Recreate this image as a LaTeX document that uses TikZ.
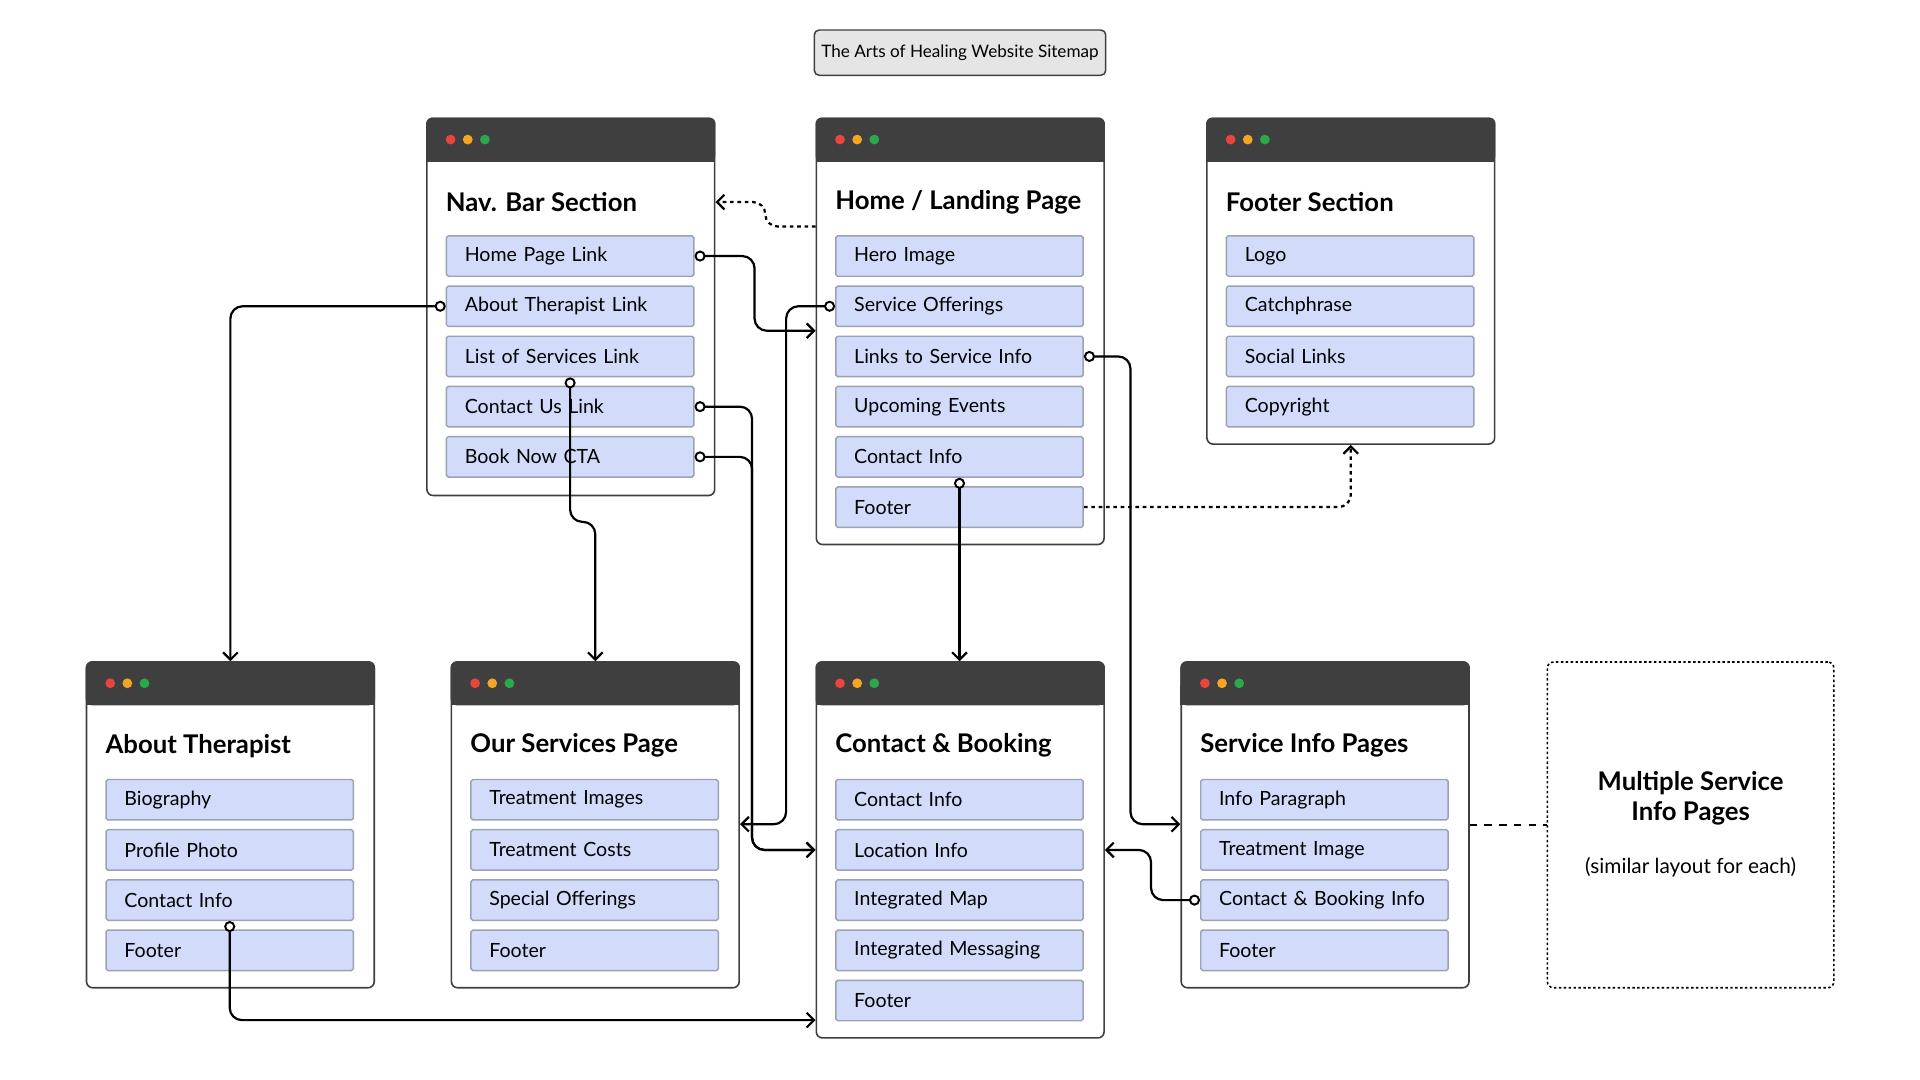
\documentclass[tikz,border=0pt]{standalone}
\usepackage{fontspec}
\setmainfont{Lato}
\usetikzlibrary{arrows.meta,calc}

\definecolor{headcol}{HTML}{3F3F3F}
\definecolor{itemfill}{HTML}{D2DCFA}
\definecolor{itemline}{HTML}{9AA2B4}
\definecolor{dotred}{HTML}{E8453C}
\definecolor{dotyel}{HTML}{F2A623}
\definecolor{dotgrn}{HTML}{2BA84A}

\tikzset{
  win/.style={draw=headcol, line width=1.3pt, fill=white, rounded corners=5pt,
    anchor=north west, minimum width=235pt, inner sep=0pt},
  wintitle/.style={anchor=west, inner sep=0pt, font=\fontsize{21}{25}\selectfont\bfseries},
  item/.style={draw=itemline, line width=1.2pt, fill=itemfill, rounded corners=1.5pt,
    anchor=north west, minimum width=202pt, minimum height=33pt, text width=172pt,
    inner xsep=15pt, inner ysep=0pt, align=left, font=\fontsize{16}{19}\selectfont},
  link/.style={line width=1.8pt, rounded corners=10pt,
    {Circle[open,fill=white,length=9pt,width=9pt,line width=1.6pt]}-{Straight Barb[length=6pt,width=12pt]}},
  dots/.style={line width=1.8pt, dash pattern=on 3pt off 3pt, rounded corners=10pt,
    -{Straight Barb[length=6pt,width=12pt]}},
}

% name, x, y, height, title, items
\newcommand\sitewin[6]{%
  \node[win, minimum height=#4pt] (#1) at (#2,#3) {};
  \fill[headcol, rounded corners=5pt] (#1.north west) rectangle ([yshift=-36pt]#1.north east);
  \fill[headcol] ([yshift=-20pt]#1.north west) rectangle ([yshift=-36pt]#1.north east);
  \foreach \dx/\c in {20/dotred,34/dotyel,48/dotgrn}
    \fill[\c] ([xshift=\dx pt,yshift=-18pt]#1.north west) circle (4pt);
  \node[wintitle] (#1-t) at ([xshift=16pt,yshift=-69pt]#1.north west) {#5};
  \foreach \t [count=\i, evaluate=\i as \yy using -96-41*(\i-1)] in {#6}
    \node[item] (#1-\i) at ([xshift=16pt,yshift=\yy pt]#1.north west) {\t};
}

\begin{document}
\begin{tikzpicture}[x=1pt,y=-1pt]
\useasboundingbox (0,0) rectangle (1568,882);

\node[draw=headcol, line width=1.2pt, fill=black!10, rounded corners=4pt,
  minimum width=238pt, minimum height=37pt, font=\fontsize{14}{17}\selectfont] (title)
  at (784,43) {The Arts of Healing Website Sitemap};

\sitewin{nav}{348}{96}{308}{Nav. Bar Section}{Home Page Link,About Therapist Link,List of Services Link,Contact Us Link,Book Now CTA}
\sitewin{home}{666}{96}{348}{Home / Landing Page}{Hero Image,Service Offerings,Links to Service Info,Upcoming Events,Contact Info,Footer}
\sitewin{foot}{985}{96}{266}{Footer Section}{Logo,Catchphrase,Social Links,Copyright}
\sitewin{ab}{70}{540}{266}{About Therapist}{Biography,Profile Photo,Contact Info,Footer}
\sitewin{serv}{368}{540}{266}{Our Services Page}{Treatment Images,Treatment Costs,Special Offerings,Footer}
\sitewin{con}{666}{540}{307}{Contact \& Booking}{Contact Info,Location Info,Integrated Map,Integrated Messaging,Footer}
\sitewin{svc}{964}{540}{266}{Service Info Pages}{Info Paragraph,Treatment Image,Contact \& Booking Info,Footer}

\node[draw, line width=1.3pt, dash pattern=on 2pt off 2pt, rounded corners=5pt,
  anchor=north west, minimum width=234pt, minimum height=266pt] (multi)
  at (1263,540) {};
\node[align=center, font=\fontsize{21}{25}\selectfont\bfseries] (multi-t)
  at ([yshift=-112pt]multi.north) {Multiple Service\\Info Pages};
\node[font=\fontsize{17}{20}\selectfont] (multi-s) at ([yshift=-168pt]multi.north) {(similar layout for each)};

% connectors
\draw[link] (nav-1.east) -- ++(49,0) |- ([yshift=-20pt]home-2.center -| home.west);
\draw[link] (home-2.west) -- ++(-40,0) |- ([yshift=-20pt]serv-1.center -| serv.east);
\draw[link] (nav-2.west) -| (ab.north);
\draw[link] (nav-3.south) -- ++(0,118) -| (serv.north);
\draw[link] (nav-4.east) -- ++(47,0) |- (con.west |- con-2.center);
\draw[link] (nav-5.east) -- ++(47,0) |- (con.west |- con-2.center);
\draw[link] (home-3.east) -- ++(38,0) |- ([yshift=-20pt]svc-1.center -| svc.west);
\draw[link] (home-5.south) -- (home-5.south |- con.north);
\draw[link] (svc-3.west) -- ++(-40,0) |- (con.east |- con-2.center);
\draw[link] (ab-3.south) |- ([yshift=-16pt]con-5.center -| con.west);
\draw[dots] (home-6.east) -| (foot.south);
\draw[dots] ([yshift=-89pt]home.north west) -- ++(-41,0) |- (nav.east |- nav-t);
\draw[line width=1.3pt, dash pattern=on 6pt off 6pt] (svc.east |- multi.west) -- (multi.west);
\end{tikzpicture}
\end{document}
